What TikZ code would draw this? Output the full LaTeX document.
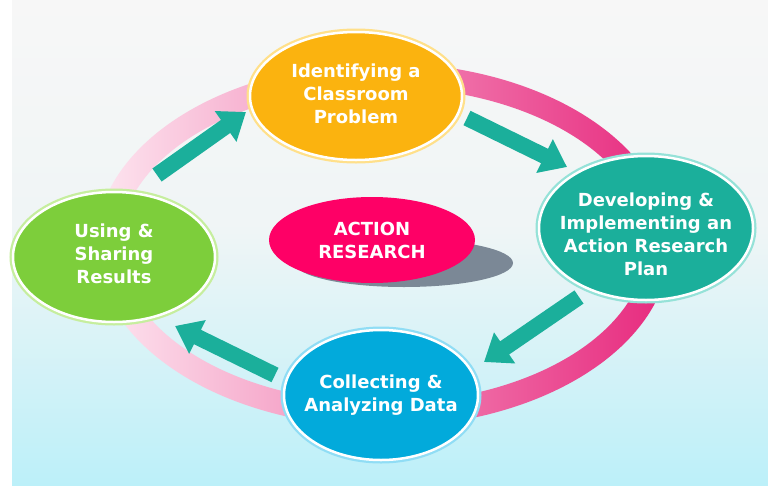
\documentclass[tikz,border=0pt]{standalone}
\usepackage{fontspec}
\setmainfont{DejaVu Sans}
\usetikzlibrary{arrows.meta,shapes.geometric}
\definecolor{bgTop}{HTML}{F7F7F7}
\definecolor{bgMid}{HTML}{E4F2F4}
\definecolor{bgBot}{HTML}{BCF0F9}
\definecolor{ringL}{HTML}{FDE6F0}
\definecolor{ringR}{HTML}{E7287D}
\definecolor{orangeF}{HTML}{FBB30F}
\definecolor{orangeG}{HTML}{FFE08A}
\definecolor{tealF}{HTML}{1BAF9B}
\definecolor{tealG}{HTML}{95E2D8}
\definecolor{greenF}{HTML}{7DCE3B}
\definecolor{greenG}{HTML}{C6EE9E}
\definecolor{blueF}{HTML}{02AADB}
\definecolor{blueG}{HTML}{90DDF5}
\definecolor{pinkF}{HTML}{FE0066}
\definecolor{shadowC}{HTML}{7B8896}
\definecolor{arrowC}{HTML}{1BAF9B}
\begin{document}
\begin{tikzpicture}[x=1pt,y=-1pt,
  stage/.style={ellipse, inner sep=0pt, outer sep=0pt, draw=white, line width=2.5pt},
  stagetext/.style={align=center, text=white, inner sep=0pt,
    font=\bfseries\fontsize{18}{23}\selectfont},
  flow/.style={draw=arrowC, line width=16pt, -{Triangle[width=36pt,length=25pt]}}]
\useasboundingbox (0,0) rectangle (768,485);
% background
\fill[white] (0,0) rectangle (768,485);
\shade[top color=bgTop, bottom color=bgTop!60!bgMid] (12,0) rectangle (768,230);
\shade[top color=bgTop!60!bgMid, middle color=bgMid, bottom color=bgBot] (12,229.5) rectangle (768,485);
% ring
\coordinate (ringc) at (383,245);
\shade[even odd rule, left color=ringL, right color=ringR]
  (ringc) ellipse [x radius=287pt, y radius=182pt]
  (ringc) ellipse [x radius=263pt, y radius=158pt];
% centre
\fill[shadowC] (404,263) ellipse [x radius=109pt, y radius=24pt];
\node[ellipse, fill=pinkF, minimum width=206pt, minimum height=86pt, inner sep=0pt,
  align=center, text=white, font=\bfseries\fontsize{18}{23}\selectfont]
  (core) at (372,240) {ACTION\\RESEARCH};
% arrows
\coordinate (a1s) at (157,175); \coordinate (a1e) at (246,112);
\coordinate (a2s) at (467,118); \coordinate (a2e) at (567,167);
\coordinate (a3s) at (579,297); \coordinate (a3e) at (484,362);
\coordinate (a4s) at (275,375); \coordinate (a4e) at (175,326);
\draw[flow] (a1s) -- (a1e);
\draw[flow] (a2s) -- (a2e);
\draw[flow] (a3s) -- (a3e);
\draw[flow] (a4s) -- (a4e);
% stages
\node[stage, fill=orangeF, preaction={draw=orangeG, line width=7pt},
  minimum width=212pt, minimum height=128pt,
  label={[stagetext, yshift=2pt]center:{Identifying a\\Classroom\\Problem}}]
  (identify) at (356,96) {};
\node[stage, fill=tealF, preaction={draw=tealG, line width=7pt},
  minimum width=214pt, minimum height=144pt,
  label={[stagetext, yshift=-6pt]center:{Developing \&\\Implementing an\\Action Research\\Plan}}]
  (develop) at (646,228) {};
\node[stage, fill=blueF, preaction={draw=blueG, line width=7pt},
  minimum width=194pt, minimum height=130pt,
  label={[stagetext]center:{Collecting \&\\Analyzing Data}}]
  (collect) at (381,395) {};
\node[stage, fill=greenF, preaction={draw=greenG, line width=7pt},
  minimum width=202pt, minimum height=130pt,
  label={[stagetext, yshift=3pt]center:{Using \&\\Sharing\\Results}}]
  (share) at (114,257) {};
\end{tikzpicture}
\end{document}
